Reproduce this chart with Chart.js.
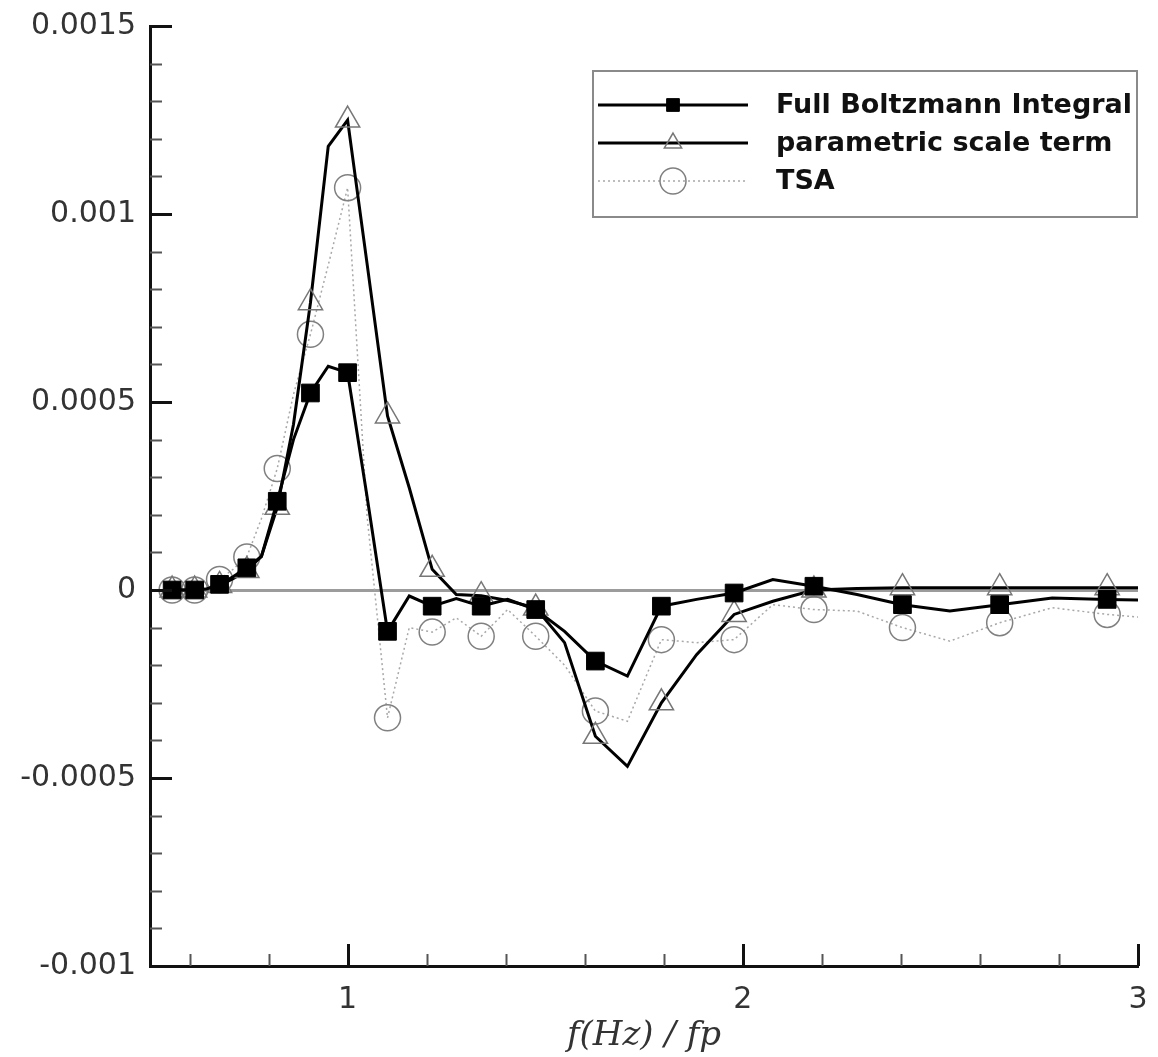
<!DOCTYPE html>
<html>
<head>
<meta charset="utf-8">
<title>Spectral source term</title>
<script src="https://cdn.jsdelivr.net/npm/chart.js@4.4.1/dist/chart.umd.min.js"></script>
<style>
  html, body { margin: 0; padding: 0; background: #fff; }
  #wrap { width: 1158px; height: 1057px; }
</style>
</head>
<body>
<div id="wrap"><canvas id="chart" width="1158" height="1057"></canvas></div>
<script>
// normalised frequency f / fp of each spectral bin
const freqRatio = [
  0.556, 0.584, 0.613, 0.644, 0.676, 0.710, 0.745, 0.782, 0.822, 0.863,
  0.906, 0.951, 1.000, 1.049, 1.101, 1.156, 1.214, 1.275, 1.338, 1.405,
  1.476, 1.549, 1.627, 1.708, 1.794, 1.883, 1.978, 2.076, 2.180, 2.289,
  2.404, 2.524, 2.650, 2.783, 2.922, 3.068
];

const fullBoltzmann = [
  0, 0, 0, 0.000003, 0.000015, 0.000035, 0.000059, 0.000089, 0.000236, 0.000400,
  0.000524, 0.000595, 0.000578, 0.000250, -0.000110, -0.000016, -0.000043, -0.000023, -0.000043, -0.000025,
  -0.000052, -0.000110, -0.000189, -0.000229, -0.000043, -0.000025, -0.000008, 0.000028, 0.000010, -0.000012,
  -0.000039, -0.000056, -0.000039, -0.000021, -0.000025, -0.000028
];

const parametricScale = [
  0, 0, 0, 0.000003, 0.000012, 0.000030, 0.000052, 0.000090, 0.000220, 0.000440,
  0.000764, 0.001180, 0.001250, 0.000870, 0.000463, 0.000272, 0.000055, -0.000012, -0.000015, -0.000028,
  -0.000048, -0.000140, -0.000389, -0.000469, -0.000300, -0.000172, -0.000065, -0.000030, 0.000000, 0.000004,
  0.000006, 0.000006, 0.000006, 0.000006, 0.000006, 0.000006
];

const tsa = [
  0, 0, 0, 0.000010, 0.000028, 0.000055, 0.000088, 0.000190, 0.000323, 0.000520,
  0.000680, 0.000864, 0.001070, 0.000200, -0.000340, -0.000100, -0.000112, -0.000074, -0.000123, -0.000052,
  -0.000123, -0.000200, -0.000322, -0.000349, -0.000132, -0.000140, -0.000132, -0.000039, -0.000052, -0.000056,
  -0.000100, -0.000136, -0.000087, -0.000047, -0.000065, -0.000078
];

const xTickValues = [1, 2, 3];
const yTickValues = [-0.001, -0.0005, 0, 0.0005, 0.001, 0.0015];
const yTickLabels = ['-0.001', '-0.0005', '0', '0.0005', '0.001', '0.0015'];

const toPoints = ys => freqRatio.map((x, i) => ({ x: x, y: ys[i] }));
// markers only on every other bin
const everyOther = r => ctx => (ctx.dataIndex % 2 === 0 ? r : 0);

// inward tick marks on the left and bottom axes
const insideTicks = {
  id: 'insideTicks',
  afterDatasetsDraw(chart) {
    const { ctx, chartArea: a, scales: { x, y } } = chart;
    ctx.save();
    ctx.lineCap = 'butt';
    for (let i = -10; i <= 15; i++) {
      const major = i % 5 === 0;
      const py = Math.round(y.getPixelForValue(i * 0.0001)) + 0.5;
      ctx.beginPath();
      ctx.strokeStyle = major ? '#111' : '#555';
      ctx.lineWidth = major ? 3 : 2;
      ctx.moveTo(a.left, py);
      ctx.lineTo(a.left + (major ? 22 : 12), py);
      ctx.stroke();
    }
    for (let i = 3; i <= 15; i++) {
      const major = i % 5 === 0;
      const px = Math.round(x.getPixelForValue(i * 0.2)) + 0.5;
      ctx.beginPath();
      ctx.strokeStyle = major ? '#111' : '#555';
      ctx.lineWidth = major ? 3 : 2;
      ctx.moveTo(px, a.bottom);
      ctx.lineTo(px, a.bottom - (major ? 22 : 12));
      ctx.stroke();
    }
    ctx.restore();
  }
};

// boxed legend with a line sample and a marker for each series
const boxLegend = {
  id: 'boxLegend',
  afterDraw(chart) {
    const { ctx } = chart;
    const box = { left: 593, top: 71, right: 1137, bottom: 217 };
    ctx.save();
    ctx.strokeStyle = '#8a8a8a';
    ctx.lineWidth = 2;
    ctx.strokeRect(box.left, box.top, box.right - box.left, box.bottom - box.top);
    chart.data.datasets.forEach((ds, i) => {
      const rowY = 105 + i * 38;
      ctx.beginPath();
      ctx.setLineDash(ds.borderDash || []);
      ctx.strokeStyle = ds.borderColor;
      ctx.lineWidth = ds.borderWidth;
      ctx.moveTo(598, rowY);
      ctx.lineTo(748, rowY);
      ctx.stroke();
      ctx.setLineDash([]);
      ctx.fillStyle = ds.pointBackgroundColor;
      ctx.strokeStyle = ds.pointBorderColor;
      ctx.lineWidth = ds.pointBorderWidth;
      Chart.helpers.drawPoint(ctx, {
        pointStyle: ds.pointStyle,
        radius: ds.legendRadius,
        rotation: 0,
        borderWidth: ds.pointBorderWidth
      }, 673, rowY);
      ctx.fillStyle = '#111';
      ctx.font = 'bold 27px "DejaVu Sans"';
      ctx.textBaseline = 'middle';
      ctx.fillText(ds.label, 776, rowY + 1);
    });
    ctx.restore();
  }
};

new Chart(document.getElementById('chart'), {
  type: 'line',
  data: {
    datasets: [
      {
        label: 'Full Boltzmann Integral',
        data: toPoints(fullBoltzmann),
        borderColor: '#000',
        borderWidth: 3,
        pointStyle: 'rect',
        pointRadius: everyOther(12.5),
        pointBackgroundColor: '#000',
        pointBorderColor: '#000',
        pointBorderWidth: 1,
        legendRadius: 9
      },
      {
        label: 'parametric scale term',
        data: toPoints(parametricScale),
        borderColor: '#000',
        borderWidth: 3,
        pointStyle: 'triangle',
        pointRadius: everyOther(14),
        pointBackgroundColor: 'rgba(0,0,0,0)',
        pointBorderColor: '#777',
        pointBorderWidth: 1.5,
        legendRadius: 10
      },
      {
        label: 'TSA',
        data: toPoints(tsa),
        borderColor: '#a8a8a8',
        borderWidth: 1.5,
        borderDash: [2, 3],
        pointStyle: 'circle',
        pointRadius: everyOther(13),
        pointBackgroundColor: 'rgba(0,0,0,0)',
        pointBorderColor: '#808080',
        pointBorderWidth: 1.5,
        legendRadius: 13
      }
    ]
  },
  options: {
    responsive: false,
    animation: false,
    devicePixelRatio: 1,
    tension: 0,
    layout: { padding: { top: 26, right: 20, left: 0, bottom: 0 } },
    plugins: {
      legend: { display: false },
      tooltip: { enabled: false }
    },
    scales: {
      x: {
        type: 'linear',
        min: 0.5,
        max: 3,
        afterBuildTicks: s => { s.ticks = xTickValues.map(v => ({ value: v })); },
        afterFit: s => { s.height = 91; s.paddingLeft = 0; s.paddingRight = 0; },
        grid: { display: false, drawTicks: false },
        border: { display: true, color: '#111', width: 3 },
        ticks: {
          padding: 16,
          color: '#333',
          font: { family: '"DejaVu Sans"', size: 30 },
          callback: v => String(v)
        },
        title: {
          display: true,
          text: 'f(Hz) / fp',
          color: '#333',
          font: { family: '"DejaVu Serif"', size: 34, style: 'italic' },
          padding: { top: 0, bottom: 0 }
        }
      },
      y: {
        type: 'linear',
        min: -0.001,
        max: 0.0015,
        afterBuildTicks: s => { s.ticks = yTickValues.map(v => ({ value: v })); },
        afterFit: s => { s.width = 150; s.paddingTop = 0; s.paddingBottom = 0; },
        grid: {
          drawTicks: false,
          lineWidth: 3,
          color: c => (c.tick && c.tick.value === 0 ? '#9c9c9c' : 'rgba(0,0,0,0)')
        },
        border: { display: true, color: '#111', width: 3 },
        ticks: {
          padding: 14,
          color: '#333',
          font: { family: '"DejaVu Sans"', size: 30 },
          callback: (v, i) => yTickLabels[yTickValues.indexOf(v)]
        }
      }
    }
  },
  plugins: [insideTicks, boxLegend]
});
</script>
</body>
</html>
